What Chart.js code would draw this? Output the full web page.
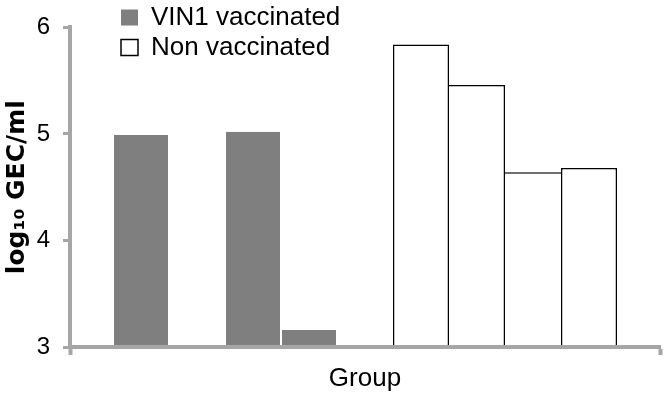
<!DOCTYPE html>
<html>
<head>
<meta charset="utf-8">
<script src="https://cdn.jsdelivr.net/npm/chart.js@4"></script>
<style>
  html, body { margin: 0; padding: 0; background: #ffffff; }
  #wrap { width: 668px; height: 400px; }
</style>
</head>
<body>
<div id="wrap"><canvas id="c" width="668" height="400"></canvas></div>
<script>
// ---- data ----
const categories = [''];                       // single group on the x axis
const seriesNames = ['VIN1 vaccinated', 'Non vaccinated'];
const vaccinated = [4.99, null, 5.02, 3.16, null];   // null = empty slot
const nonVaccinated = [5.84, 5.46, 4.64, 4.68];
const yTicks = [3, 4, 5, 6];
const xTitle = 'Group';
const yTitle = 'log\u2081\u2080 GEC/ml';

// ---- styles ----
const GRAY = '#7f7f7f';
const AXIS = '#a6a6a6';
const LW = 1.5;

const datasets = [];
vaccinated.forEach((v) => {
  datasets.push({
    label: seriesNames[0],
    data: [v],
    backgroundColor: GRAY,
    borderColor: '#ffffff',
    borderWidth: v === null ? 0 : { left: 1, right: 1, top: 0, bottom: 0 },
    borderSkipped: 'start'
  });
});
nonVaccinated.forEach((v, i) => {
  const prev = nonVaccinated[i - 1];
  const next = nonVaccinated[i + 1];
  const left = (i === 0 || prev <= v) ? LW : 0;
  const right = (next === undefined || next < v) ? LW : 0;
  datasets.push({
    label: seriesNames[1],
    data: [v],
    backgroundColor: '#ffffff',
    borderColor: '#000000',
    borderWidth: { left, right, top: LW, bottom: 0 },
    borderSkipped: 'start'
  });
});

const legendPlace = {
  id: 'legendPlace',
  afterLayout(chart) {
    const l = chart.legend;
    if (!l) return;
    l.left = 117; l.right = 668;
    l.top = 0.5; l.bottom = 400;
  }
};

new Chart(document.getElementById('c'), {
  type: 'bar',
  data: { labels: categories, datasets },
  options: {
    responsive: false,
    animation: false,
    layout: { padding: { left: 0, right: 8, top: 20, bottom: 0 } },
    datasets: { bar: { categoryPercentage: 504 / 590, barPercentage: 1 } },
    plugins: {
      tooltip: { enabled: false },
      legend: {
        position: 'chartArea',
        align: 'start',
        labels: {
          boxWidth: 17,
          boxHeight: 16,
          padding: 4,
          color: '#000000',
          font: { family: 'Liberation Sans', size: 26 },
          generateLabels: () => seriesNames.map((name, i) => ({
            text: name,
            fillStyle: i === 0 ? GRAY : '#ffffff',
            strokeStyle: '#000000',
            lineWidth: i === 0 ? 0 : 1.5,
            hidden: false,
            fontColor: '#000000',
            datasetIndex: i === 0 ? 0 : vaccinated.length
          }))
        }
      }
    },
    scales: {
      x: {
        offset: true,
        grid: {
          z: 1,
          display: true, offset: true, drawOnChartArea: false, drawTicks: true,
          tickLength: 8, tickWidth: 4, tickColor: AXIS
        },
        border: { z: 1, display: true, color: AXIS, width: 4 },
        ticks: { display: false },
        title: {
          display: true, text: xTitle, color: '#000000',
          font: { family: 'Liberation Sans', size: 26 },
          padding: { top: 0, bottom: 6 }
        },
        afterFit: (s) => { s.height = 53; }
      },
      y: {
        min: 3, max: 6,
        afterBuildTicks: (s) => { s.ticks = yTicks.map(v => ({ value: v })); },
        grid: {
          z: 1,
          display: true, drawOnChartArea: false, drawTicks: true,
          tickLength: 7, tickWidth: 3, tickColor: AXIS
        },
        border: { z: 1, display: true, color: AXIS, width: 4 },
        ticks: {
          padding: 13, color: '#000000',
          font: { family: 'Liberation Sans', size: 24 }
        },
        title: {
          display: true, text: yTitle, color: '#000000',
          font: { family: 'DejaVu Sans', size: 25, weight: 'bold' },
          padding: { top: 2, bottom: 0 }
        },
        afterFit: (s) => { s.width = 70; }
      }
    }
  },
  plugins: [legendPlace]
});
</script>
</body>
</html>
